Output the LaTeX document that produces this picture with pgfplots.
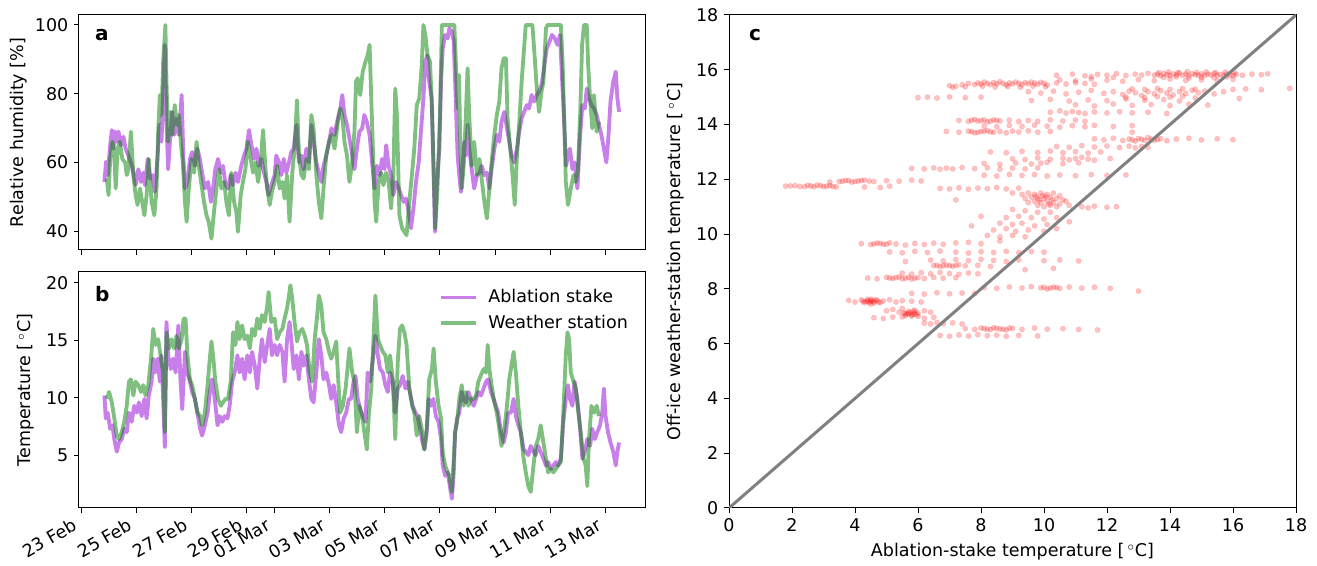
\documentclass[border=0pt]{standalone}
\usepackage{fontspec}
\setmainfont{DejaVu Sans}
\usepackage{pgfplots}
\pgfplotsset{compat=1.18}
\usepackage{pgfplotstable}

\definecolor{stakec}{RGB}{148,0,211}
\definecolor{stationc}{RGB}{0,128,0}

% relative humidity, ablation stake
\pgfplotstableread{
day rh
0.84 54.3
0.90 60.2
0.96 56.3
1.05 65.0
1.11 69.4
1.17 64.0
1.23 69.0
1.29 66.0
1.35 69.0
1.44 65.0
1.53 67.5
1.61 64.0
1.71 62.0
1.80 60.0
1.89 57.0
1.97 53.4
2.07 58.0
2.17 54.3
2.25 57.0
2.31 53.4
2.41 61.0
2.49 55.3
2.58 56.3
2.67 51.4
2.77 62.0
2.83 70.9
2.91 66.0
2.97 80.6
3.03 94.2
3.08 73.8
3.15 58.0
3.24 68.9
3.30 74.7
3.37 68.0
3.45 72.8
3.54 68.0
3.64 79.6
3.70 62.0
3.76 52.4
3.85 54.3
3.94 61.0
4.02 63.0
4.12 59.0
4.21 64.0
4.30 61.0
4.38 57.0
4.48 52.4
4.60 54.3
4.70 48.5
4.78 52.4
4.86 58.0
4.96 61.0
5.06 57.0
5.14 59.0
5.23 53.4
5.32 52.4
5.42 56.3
5.50 53.4
5.59 57.0
5.68 54.3
5.80 59.0
5.90 62.0
5.99 64.0
6.08 69.4
6.17 65.0
6.26 61.0
6.35 64.0
6.43 59.0
6.53 61.0
6.62 57.0
6.71 54.3
6.79 50.5
6.89 53.4
7.01 56.3
7.07 62.0
7.17 60.0
7.25 56.3
7.34 61.0
7.43 57.0
7.53 60.0
7.61 63.0
7.70 64.0
7.80 70.9
7.89 60.0
7.98 62.0
8.06 58.0
8.16 64.0
8.25 60.0
8.34 70.9
8.42 66.0
8.52 60.0
8.61 57.0
8.70 54.3
8.78 59.0
8.88 62.0
8.98 66.0
9.07 69.9
9.18 68.0
9.30 72.8
9.39 75.7
9.46 79.6
9.54 73.8
9.63 70.9
9.72 67.0
9.82 62.0
9.90 58.0
9.99 64.0
10.08 68.9
10.18 69.9
10.26 73.8
10.35 71.8
10.45 68.0
10.54 60.0
10.63 52.4
10.71 59.0
10.81 56.3
10.90 61.0
10.99 58.0
11.05 65.0
11.14 59.0
11.23 56.3
11.31 50.5
11.41 54.3
11.51 52.4
11.59 50.5
11.68 48.5
11.77 49.5
11.87 45.6
11.95 40.8
12.04 46.6
12.13 54.3
12.23 60.0
12.31 68.9
12.40 78.6
12.47 89.3
12.54 91.2
12.61 83.5
12.70 78.6
12.76 60.0
12.82 39.8
12.89 54.3
12.98 64.0
13.04 83.5
13.10 93.2
13.19 97.1
13.28 96.1
13.34 99.0
13.43 98.0
13.50 95.1
13.55 83.5
13.59 73.8
13.64 62.0
13.70 56.3
13.76 51.4
13.82 58.0
13.88 66.0
13.94 62.0
14.00 70.9
14.06 64.0
14.15 58.0
14.24 52.4
14.34 56.3
14.43 57.0
14.51 59.0
14.61 56.3
14.70 57.0
14.79 52.4
14.87 58.0
14.97 64.0
15.06 68.0
15.15 66.0
15.23 71.8
15.33 74.7
15.43 69.9
15.51 66.0
15.59 62.0
15.69 60.0
15.79 64.0
15.87 68.9
15.96 72.8
16.05 74.7
16.15 76.7
16.23 75.7
16.32 79.6
16.41 77.7
16.51 79.6
16.59 80.6
16.68 82.5
16.77 87.4
16.87 93.2
16.97 95.1
17.06 97.1
17.16 96.1
17.26 94.2
17.35 97.1
17.43 83.5
17.50 71.8
17.57 59.0
17.64 62.0
17.71 64.0
17.80 58.0
17.88 60.0
17.98 52.4
18.08 68.0
18.16 76.7
18.25 75.7
18.32 81.5
18.40 78.6
18.49 76.7
18.58 75.7
18.68 73.8
18.76 70.9
18.85 68.0
18.94 64.0
19.03 60.0
19.10 67.0
19.18 77.7
19.28 83.5
19.37 86.4
19.43 78.6
19.49 74.7
}\rhstake

% relative humidity, weather station
\pgfplotstableread{
day rh
0.93 55.3
0.99 50.5
1.05 61.0
1.13 66.0
1.20 62.0
1.25 52.4
1.32 64.0
1.40 66.0
1.49 61.0
1.59 60.0
1.65 56.3
1.71 58.0
1.80 68.9
1.89 56.3
1.97 50.5
2.04 47.6
2.13 52.4
2.21 48.5
2.29 44.6
2.37 50.5
2.45 61.0
2.55 48.5
2.65 44.6
2.73 52.4
2.79 68.9
2.85 79.6
2.91 73.8
2.97 89.3
3.05 100
3.09 83.5
3.15 66.0
3.23 74.7
3.30 68.0
3.39 76.7
3.47 70.9
3.54 73.8
3.61 66.0
3.68 60.0
3.76 48.5
3.82 42.7
3.90 52.4
4.00 61.0
4.09 57.0
4.18 66.0
4.26 59.0
4.36 53.4
4.45 48.5
4.54 44.6
4.62 42.7
4.72 37.8
4.80 44.6
4.90 52.4
4.99 58.0
5.08 52.4
5.18 54.3
5.26 48.5
5.35 44.6
5.44 57.0
5.54 48.5
5.62 45.6
5.68 39.8
5.78 50.5
5.86 54.3
5.95 58.0
6.04 66.0
6.14 61.0
6.23 57.0
6.31 60.0
6.41 54.3
6.50 60.0
6.59 69.4
6.67 59.0
6.74 52.4
6.83 47.6
6.91 51.5
7.01 54.3
7.10 59.0
7.19 52.4
7.29 54.3
7.37 49.5
7.46 56.3
7.55 42.7
7.65 57.0
7.73 64.0
7.82 78.1
7.89 62.0
7.98 56.3
8.06 55.3
8.16 61.0
8.25 58.0
8.34 73.8
8.42 69.9
8.52 56.3
8.61 48.5
8.70 43.7
8.78 52.4
8.88 62.0
8.98 66.0
9.07 68.0
9.18 64.0
9.30 71.8
9.39 75.7
9.46 73.8
9.54 66.0
9.63 62.0
9.72 54.3
9.82 60.0
9.90 68.9
9.96 83.5
10.02 84.5
10.11 79.6
10.20 86.4
10.30 89.3
10.38 91.2
10.45 94.2
10.51 78.6
10.57 64.0
10.63 48.5
10.69 42.7
10.78 54.3
10.87 57.0
10.95 53.4
11.05 57.0
11.14 54.3
11.23 46.6
11.31 56.3
11.38 81.5
11.44 73.8
11.53 44.6
11.63 40.8
11.71 39.8
11.79 38.8
11.89 48.5
11.99 57.0
12.07 64.0
12.16 76.7
12.25 78.6
12.34 88.3
12.40 100
12.47 97.1
12.55 91.2
12.64 89.3
12.71 75.7
12.77 58.0
12.83 40.8
12.91 52.4
13.00 73.8
13.07 100
13.52 100
13.58 88.3
13.64 75.7
13.69 85.4
13.74 64.0
13.79 52.4
13.86 59.0
13.94 73.8
14.00 87.4
14.06 73.8
14.15 59.0
14.24 66.0
14.34 56.3
14.43 61.0
14.51 55.3
14.61 48.5
14.70 43.7
14.79 52.4
14.87 60.0
14.97 68.0
15.06 73.8
15.15 77.7
15.23 87.4
15.31 90.3
15.39 90.3
15.45 72.8
15.55 64.0
15.63 56.3
15.71 47.6
15.79 62.0
15.87 70.9
15.96 83.5
16.03 91.2
16.11 100
16.35 100
16.41 93.2
16.51 81.5
16.59 74.7
16.68 80.6
16.75 83.5
16.84 99.0
16.90 100
17.38 100
17.44 90.3
17.50 73.8
17.56 54.3
17.64 47.6
17.74 52.4
17.84 56.3
17.92 54.3
18.00 58.0
18.08 73.8
18.15 94.2
18.22 100
18.32 100
18.37 88.3
18.44 78.6
18.52 69.9
18.58 79.6
18.68 68.9
18.76 71.8
}\rhstation

% temperature, ablation stake
\pgfplotstableread{
day t
0.84 10.2
0.89 8.2
0.96 8.7
1.05 7.3
1.13 7.6
1.20 6.4
1.29 5.3
1.37 6.1
1.47 6.4
1.56 7.3
1.65 7.0
1.73 8.7
1.83 7.9
1.92 9.3
2.01 8.7
2.09 9.6
2.19 8.4
2.29 9.9
2.37 8.2
2.45 10.2
2.55 11.4
2.61 13.4
2.67 12.2
2.77 13.4
2.85 11.4
2.91 13.7
2.97 9.9
3.03 5.7
3.09 16.6
3.15 13.7
3.25 12.5
3.33 13.4
3.42 12.2
3.52 16.3
3.59 11.9
3.66 9.0
3.76 14.0
3.83 12.2
3.92 11.6
4.02 10.5
4.12 9.9
4.21 8.7
4.31 7.3
4.38 6.7
4.48 7.6
4.58 8.7
4.66 10.5
4.74 11.6
4.84 9.9
4.94 7.6
5.02 8.4
5.11 7.9
5.20 8.4
5.30 8.2
5.38 9.3
5.47 11.4
5.56 12.2
5.66 13.7
5.74 12.2
5.83 13.4
5.92 11.6
6.02 13.7
6.11 12.2
6.19 14.0
6.29 12.8
6.38 10.8
6.47 13.4
6.55 15.1
6.65 13.1
6.74 14.6
6.83 16.0
6.91 13.7
7.01 14.6
7.10 13.7
7.19 14.6
7.29 14.0
7.37 11.4
7.46 15.1
7.55 16.6
7.61 15.1
7.70 12.5
7.80 13.7
7.89 11.6
7.98 14.0
8.06 12.8
8.16 13.7
8.25 11.6
8.34 9.9
8.42 9.6
8.52 12.2
8.61 15.1
8.70 13.7
8.78 11.6
8.88 12.2
8.98 11.1
9.06 9.9
9.15 11.1
9.24 9.6
9.34 7.6
9.42 7.0
9.51 8.2
9.60 8.7
9.70 9.9
9.78 9.9
9.87 11.4
9.94 11.9
10.02 9.9
10.11 9.0
10.20 8.4
10.30 7.9
10.38 12.2
10.47 11.4
10.57 13.4
10.66 15.4
10.75 13.7
10.83 12.5
10.93 12.2
11.02 11.1
11.11 10.5
11.19 12.2
11.29 11.4
11.38 8.7
11.47 10.8
11.55 11.1
11.65 11.9
11.75 10.8
11.83 11.4
11.91 10.5
12.01 9.3
12.11 8.7
12.19 8.4
12.28 7.3
12.37 6.1
12.44 5.5
12.52 7.0
12.59 9.9
12.67 9.3
12.76 9.9
12.85 8.4
12.95 7.9
13.04 6.4
13.10 4.1
13.19 3.2
13.28 3.5
13.34 2.6
13.43 1.2
13.50 3.5
13.55 7.0
13.62 8.2
13.70 8.7
13.79 10.5
13.86 9.9
13.94 9.6
14.03 10.5
14.12 9.9
14.22 9.3
14.31 9.9
14.39 10.5
14.49 10.2
14.58 10.8
14.67 11.4
14.75 11.6
14.85 10.5
14.94 9.9
15.03 9.3
15.11 8.7
15.21 7.0
15.31 6.1
15.39 7.0
15.47 8.7
15.57 8.7
15.67 9.9
15.75 8.4
15.84 7.6
15.93 7.0
16.03 5.5
16.11 5.3
16.20 5.0
16.29 5.8
16.39 5.3
16.47 5.0
16.56 5.8
16.65 5.3
16.75 4.7
16.84 4.1
16.92 4.4
17.02 3.8
17.11 4.1
17.20 4.4
17.28 4.1
17.38 4.7
17.47 7.9
17.56 9.9
17.64 11.1
17.71 9.9
17.80 9.3
17.88 11.4
17.98 9.9
18.08 7.3
18.16 4.7
18.25 5.3
18.34 6.4
18.44 5.8
18.52 7.3
18.61 6.4
18.70 7.0
18.80 7.6
18.88 8.7
18.94 10.8
19.00 8.4
19.09 7.0
19.18 6.1
19.28 5.3
19.37 4.1
19.43 5.3
19.49 6.1
}\tstake

% temperature, weather station
\pgfplotstableread{
day t
0.93 9.9
1.01 10.5
1.11 9.6
1.20 8.2
1.29 6.7
1.37 6.4
1.47 7.0
1.56 7.9
1.65 9.3
1.73 11.4
1.80 11.6
1.89 10.2
1.97 11.4
2.07 11.1
2.17 10.5
2.25 11.1
2.33 10.2
2.43 11.1
2.53 13.4
2.61 16.0
2.70 14.6
2.79 15.1
2.89 13.4
2.97 12.2
3.03 7.0
3.09 15.7
3.18 14.3
3.27 15.1
3.37 14.3
3.45 15.4
3.54 14.3
3.64 15.1
3.71 16.9
3.78 16.9
3.85 13.7
3.94 11.6
4.02 11.1
4.12 9.9
4.21 8.7
4.31 8.4
4.38 7.6
4.48 8.7
4.58 11.1
4.66 13.4
4.72 14.9
4.79 13.4
4.86 11.4
4.96 9.9
5.06 9.3
5.14 9.6
5.23 9.9
5.32 9.9
5.42 11.4
5.50 15.7
5.59 14.6
5.66 16.6
5.74 15.1
5.83 16.3
5.92 15.1
6.02 15.4
6.11 14.3
6.19 16.0
6.29 15.4
6.38 16.9
6.47 16.0
6.55 17.2
6.65 16.6
6.74 18.0
6.79 19.2
6.89 16.6
7.01 16.9
7.10 15.1
7.19 15.7
7.29 16.0
7.37 16.9
7.46 17.8
7.53 18.9
7.58 19.8
7.65 18.6
7.73 16.6
7.82 14.9
7.91 15.7
8.01 16.0
8.10 15.4
8.18 14.6
8.28 12.2
8.37 11.4
8.46 15.1
8.54 16.9
8.61 18.9
8.70 18.0
8.78 15.7
8.88 15.1
8.98 14.0
9.06 13.4
9.15 14.0
9.24 14.9
9.30 12.2
9.38 8.7
9.48 9.3
9.58 10.8
9.66 12.8
9.72 14.3
9.82 12.2
9.90 11.4
9.99 7.0
10.08 9.3
10.18 8.4
10.26 7.0
10.35 5.5
10.42 8.4
10.51 10.8
10.59 15.1
10.66 18.9
10.75 15.1
10.83 14.6
10.93 14.0
11.02 13.7
11.11 12.2
11.19 13.7
11.29 11.6
11.38 6.4
11.47 13.1
11.55 16.0
11.63 16.3
11.71 15.7
11.79 14.6
11.89 10.8
11.99 9.3
12.07 8.7
12.16 6.7
12.25 8.4
12.34 7.3
12.43 5.5
12.52 7.3
12.61 11.6
12.71 12.5
12.77 14.3
12.85 11.4
12.95 9.3
13.04 8.2
13.10 5.2
13.19 4.1
13.28 3.5
13.34 3.2
13.43 1.8
13.50 4.7
13.55 7.0
13.62 7.9
13.70 9.9
13.79 11.1
13.86 9.3
13.94 10.5
14.03 9.3
14.12 9.9
14.22 9.9
14.31 10.2
14.39 11.4
14.49 12.0
14.58 12.5
14.67 12.2
14.73 14.6
14.79 12.5
14.87 11.1
14.97 9.6
15.06 8.7
15.15 7.3
15.23 5.8
15.33 7.3
15.43 9.3
15.51 11.6
15.59 12.8
15.67 14.0
15.75 12.2
15.84 9.3
15.93 7.0
16.03 4.7
16.11 3.5
16.20 2.3
16.29 1.8
16.39 4.1
16.47 5.8
16.56 6.4
16.65 7.6
16.75 6.1
16.84 4.7
16.92 3.5
17.02 3.8
17.11 3.5
17.20 3.8
17.28 4.1
17.38 4.4
17.47 8.7
17.56 13.7
17.62 15.7
17.68 15.1
17.74 12.2
17.84 11.4
17.92 10.8
18.00 9.0
18.10 7.0
18.20 4.7
18.28 4.1
18.34 2.3
18.40 6.4
18.49 9.3
18.58 8.7
18.68 9.3
18.76 8.4
}\tstation

% stake temperature vs off-ice station temperature
\pgfplotstableread{
x y
10.4 15.80
10.9 15.84
11.3 15.78
11.7 15.83
12.0 15.80
12.3 15.86
12.6 15.79
12.9 15.84
13.1 15.81
13.3 15.87
13.5 15.80
13.6 15.84
13.7 15.78
13.8 15.86
13.9 15.82
14.0 15.79
14.1 15.85
14.2 15.81
14.3 15.88
14.4 15.80
14.5 15.84
14.6 15.78
14.7 15.86
14.8 15.82
14.9 15.80
15.0 15.85
15.1 15.79
15.2 15.84
15.3 15.81
15.4 15.86
15.5 15.80
15.6 15.83
15.7 15.78
15.8 15.84
15.9 15.81
16.0 15.79
16.1 15.83
16.3 15.80
16.6 15.84
16.9 15.82
17.1 15.85
13.65 15.90
13.95 15.92
14.25 15.90
14.55 15.93
14.85 15.90
15.15 15.92
15.45 15.90
15.75 15.91
16.05 15.89
13.8 15.72
14.2 15.74
14.6 15.70
15.0 15.73
15.4 15.71
15.8 15.74
12.2 15.72
11.5 15.75
7.0 15.42
7.2 15.40
7.4 15.45
7.6 15.50
7.8 15.46
7.9 15.52
8.0 15.48
8.1 15.55
8.2 15.50
8.3 15.46
8.4 15.53
8.5 15.49
8.6 15.56
8.7 15.50
8.8 15.45
8.9 15.52
9.0 15.48
9.1 15.55
9.2 15.50
9.3 15.46
9.4 15.53
9.5 15.49
9.6 15.55
9.7 15.51
9.8 15.47
9.9 15.54
10.0 15.50
10.1 15.45
10.4 15.52
10.7 15.48
11.0 15.53
11.3 15.50
11.6 15.47
7.1 15.36
7.5 15.38
8.05 15.40
8.45 15.37
8.85 15.39
9.25 15.36
9.65 15.40
10.05 15.38
10.5 15.63
11.0 15.60
11.5 15.66
12.0 15.62
12.5 15.58
13.0 15.64
13.5 15.60
14.0 15.66
14.5 15.61
15.0 15.63
15.5 15.59
16.0 15.65
9.5 15.20
9.9 15.15
10.3 15.22
10.7 15.12
11.1 15.18
11.5 15.25
11.9 15.14
12.2 15.20
12.5 15.10
12.7 15.22
12.9 15.16
13.1 15.06
13.3 15.20
13.5 15.12
13.7 15.24
13.9 15.15
14.1 15.08
14.3 15.20
14.5 15.13
14.7 15.25
14.9 15.16
15.1 15.22
15.4 15.12
15.7 15.20
16.0 15.28
16.4 15.30
16.9 15.27
17.8 15.32
12.8 15.30
13.2 15.28
13.6 15.32
14.0 15.28
14.4 15.31
14.8 15.29
13.2 14.98
14.0 15.00
14.8 14.97
12.6 15.00
13.6 15.02
14.4 15.03
6.0 14.98
6.3 15.00
6.6 14.97
7.0 15.01
7.5 14.98
8.0 15.00
9.6 14.88
10.2 14.92
10.8 14.86
11.4 14.90
12.0 14.87
12.6 14.93
13.2 14.88
13.8 14.91
14.3 14.86
11.0 14.72
11.6 14.68
12.2 14.75
12.8 14.70
13.4 14.73
14.0 14.69
14.6 14.74
15.2 14.71
10.2 14.45
10.5 14.50
10.7 14.42
10.9 14.48
11.1 14.44
11.3 14.40
11.6 14.46
12.0 14.42
12.4 14.47
12.8 14.43
13.3 14.45
13.9 14.40
7.3 14.15
7.6 14.12
7.8 14.18
8.0 14.14
8.2 14.10
8.4 14.17
8.6 14.13
8.9 14.16
9.2 14.11
9.5 14.15
9.8 14.12
10.2 14.17
10.6 14.13
11.0 14.16
11.3 14.12
7.7 14.16
7.9 14.13
8.1 14.17
8.3 14.12
8.5 14.15
8.1 13.95
8.5 13.92
8.9 13.97
9.3 13.93
9.7 13.98
10.1 13.94
10.5 13.90
10.9 13.96
11.3 13.92
11.6 13.97
12.2 13.93
12.8 13.96
6.9 13.75
7.3 13.72
7.6 13.76
7.8 13.70
8.0 13.74
8.2 13.78
8.4 13.72
8.6 13.75
8.8 13.70
9.0 13.76
9.2 13.73
9.5 13.77
9.8 13.72
10.2 13.75
7.7 13.74
7.9 13.72
8.1 13.76
8.3 13.73
11.6 13.48
11.9 13.44
12.2 13.50
12.5 13.42
12.7 13.47
12.9 13.40
13.1 13.46
13.3 13.52
13.5 13.43
13.7 13.48
13.9 13.41
14.2 13.47
14.6 13.50
15.0 13.44
15.5 13.48
16.0 13.45
12.8 13.44
13.0 13.49
13.2 13.42
13.4 13.47
13.6 13.45
10.4 13.20
10.8 13.17
11.2 13.23
11.6 13.18
12.0 13.22
12.4 13.16
12.7 13.21
12.9 13.15
13.1 13.20
13.3 13.17
8.3 13.00
8.8 12.97
9.3 13.02
9.8 12.98
10.2 13.03
10.6 12.97
11.0 13.01
11.4 12.96
11.8 13.00
9.0 12.75
9.4 12.72
9.8 12.78
10.2 12.73
10.6 12.77
10.8 12.71
11.0 12.76
11.2 12.80
11.4 12.74
11.6 12.70
12.1 12.76
8.1 12.58
8.6 12.55
9.1 12.60
9.6 12.56
9.9 12.59
10.1 12.62
10.6 12.57
11.1 12.60
5.8 12.40
6.2 12.38
6.5 12.42
6.7 12.37
6.9 12.41
7.1 12.38
7.4 12.43
7.8 12.39
8.2 12.42
8.6 12.37
9.0 12.41
9.4 12.38
9.8 12.42
8.1 12.15
8.5 12.12
8.9 12.18
9.3 12.14
9.7 12.17
10.1 12.12
10.5 12.16
11.0 12.13
11.5 12.17
12.0 12.14
12.6 12.16
3.5 11.92
3.7 11.96
3.9 11.90
4.1 11.94
4.3 11.97
4.6 11.92
5.0 11.95
5.4 11.93
5.8 11.97
6.1 11.94
3.6 11.93
3.8 11.95
4.0 11.92
4.2 11.96
4.45 11.94
1.8 11.75
2.1 11.77
2.4 11.73
2.6 11.76
2.8 11.79
3.0 11.74
3.2 11.77
3.4 11.72
1.95 11.76
2.25 11.74
2.5 11.78
2.7 11.73
2.9 11.77
3.1 11.75
3.3 11.74
4.3 11.72
4.8 11.70
5.1 11.75
3.2 11.90
6.7 11.67
7.0 11.65
7.3 11.69
7.6 11.64
7.9 11.68
8.2 11.66
8.5 11.70
8.8 11.65
9.2 11.68
9.0 11.50
9.3 11.45
9.5 11.50
9.7 11.45
9.9 11.50
10.1 11.45
10.3 11.50
10.5 11.40
9.4 11.30
9.6 11.35
9.8 11.30
10.0 11.30
10.2 11.35
10.4 11.30
10.6 11.25
9.5 11.15
9.7 11.20
9.9 11.15
10.1 11.20
10.3 11.15
10.5 11.10
10.7 11.20
9.8 11.05
10.0 11.00
10.2 11.05
10.4 11.00
10.8 11.05
9.85 11.25
10.05 11.38
10.25 11.25
9.95 11.40
10.15 11.10
9.75 11.38
11.2 11.00
11.4 10.96
11.6 11.02
12.0 10.98
12.3 11.00
7.2 11.25
9.0 10.90
9.4 10.85
9.8 10.80
10.2 10.80
8.8 10.60
9.2 10.65
9.6 10.60
10.0 10.55
10.4 10.60
8.6 10.40
9.0 10.35
9.3 10.40
9.7 10.30
10.1 10.35
8.4 10.15
8.8 10.20
9.1 10.10
9.5 10.15
10.0 10.10
8.2 9.95
8.6 9.90
9.0 9.95
9.4 9.90
10.4 10.20
10.8 10.45
8.0 10.65
7.7 10.30
8.6 9.75
4.2 9.65
4.5 9.62
4.7 9.67
4.9 9.63
5.1 9.68
5.3 9.64
5.6 9.60
5.9 9.66
6.2 9.62
6.5 9.67
6.8 9.63
7.2 9.68
7.6 9.70
8.0 9.65
4.6 9.64
4.8 9.66
5.0 9.63
5.1 9.35
5.5 9.32
5.9 9.37
6.3 9.33
6.7 9.38
7.2 9.34
7.6 9.31
8.0 9.36
8.4 9.33
8.8 9.37
9.2 9.32
9.6 9.36
10.0 9.34
6.4 9.05
6.8 9.02
7.2 9.07
7.6 9.03
8.0 9.08
8.4 9.04
8.8 9.00
9.2 9.06
10.0 9.03
10.5 9.06
11.1 9.02
5.6 9.00
6.5 8.85
6.7 8.82
6.9 8.87
7.1 8.83
7.3 8.88
7.5 8.84
7.9 8.86
8.3 8.82
6.6 8.86
6.8 8.84
7.0 8.85
7.2 8.86
9.4 8.70
10.3 8.75
5.5 8.57
5.8 8.54
6.1 8.59
6.4 8.55
6.7 8.60
7.0 8.56
7.3 8.53
7.6 8.58
7.9 8.55
4.4 8.40
4.7 8.37
5.0 8.42
5.2 8.38
5.4 8.43
5.6 8.39
5.8 8.36
6.0 8.41
6.2 8.38
6.5 8.42
6.8 8.39
7.2 8.41
5.1 8.40
5.3 8.41
5.5 8.37
5.7 8.42
5.9 8.39
8.1 8.05
8.5 8.02
8.9 8.07
9.3 8.03
9.6 8.08
9.9 8.04
10.1 8.00
10.3 8.06
10.5 8.02
10.8 8.07
11.2 8.03
11.6 8.06
12.1 8.02
10.0 8.06
10.2 8.03
10.4 8.05
13.0 7.92
5.8 7.84
6.2 7.81
6.6 7.86
7.0 7.82
7.4 7.85
7.8 7.83
3.8 7.58
4.0 7.52
4.2 7.60
4.3 7.50
4.4 7.56
4.5 7.62
4.6 7.53
4.7 7.58
4.8 7.50
4.9 7.56
5.1 7.60
5.3 7.52
5.5 7.57
5.8 7.55
6.1 7.52
4.5 7.55
4.6 7.49
4.4 7.62
4.5 7.45
4.35 7.54
4.55 7.58
4.65 7.60
4.75 7.52
4.25 7.55
4.45 7.50
5.0 7.20
5.2 7.25
5.4 7.15
5.5 7.28
5.6 7.10
5.7 7.18
5.8 7.05
5.9 7.22
6.0 7.12
6.2 7.20
6.4 7.15
5.7 7.10
5.8 7.00
5.9 7.12
5.6 7.02
5.5 6.98
6.0 7.00
5.65 7.08
5.75 7.14
5.85 7.08
5.95 7.06
5.55 7.12
5.85 7.20
4.6 6.95
4.9 6.92
5.2 6.97
6.2 6.93
6.5 6.96
6.2 6.75
6.4 6.72
6.6 6.77
6.8 6.73
7.1 6.76
7.4 6.72
7.5 6.55
7.8 6.52
8.0 6.57
8.2 6.53
8.4 6.58
8.6 6.54
8.8 6.50
9.0 6.56
9.3 6.52
9.7 6.57
10.1 6.53
10.6 6.55
11.1 6.52
11.7 6.50
8.1 6.55
8.3 6.52
8.5 6.56
8.7 6.53
8.9 6.57
6.7 6.30
7.0 6.27
7.3 6.32
7.6 6.28
7.9 6.33
8.2 6.29
8.5 6.31
8.8 6.27
9.2 6.30
9.8 6.28
12.8 13.72
16.2 14.95
}\scatterdata

\pgfplotsset{
  panel/.style={
    scale only axis,
    clip mode=individual,
    axis line style={line width=0.6pt},
    tick align=outside,
    tick pos=left,
    major tick length=2.9pt,
    tick style={line width=0.6pt, black},
    tick label style={font=\fontsize{10.5}{12.5}\selectfont},
    label style={font=\fontsize{10.5}{12.5}\selectfont},
    /pgf/number format/assume math mode=true,
  },
  stake/.style={color=stakec, opacity=0.5, line width=2.3pt, line join=round},
  station/.style={color=stationc, opacity=0.5, line width=2.3pt, line join=round},
}
\tikzset{
  datelabel/.style={xshift=-5.5pt, yshift=-5.8pt, rotate=30, anchor=north east,
    inner sep=0pt, text height=0.76em, text depth=0.24em,
    font=\fontsize{10.5}{12.5}\selectfont},
  panelletter/.style={anchor=north west, font=\bfseries\fontsize{12}{14}\selectfont},
}

\begin{document}
\begin{tikzpicture}
\path[use as bounding box] (0,0) rectangle (790.2pt,339.6pt);

% a: relative humidity
\begin{axis}[panel,
  at={(47.4pt,189.6pt)}, anchor=south west,
  width=339.6pt, height=141pt,
  xmin=-0.08, xmax=20.43, ymin=34.5, ymax=102.9,
  xtick={0,2,4,6,7,9,11,13,15,17,19}, xticklabels={},
  ytick={40,60,80,100},
  ylabel={Relative humidity [\%]},
  ylabel style={yshift=-2pt},
]
\addplot[stake] table[x=day, y=rh] {\rhstake};
\addplot[station] table[x=day, y=rh] {\rhstation};
\node[panelletter] at (rel axis cs:0.018,0.965) {a};
\end{axis}

% b: temperature
\begin{axis}[panel,
  at={(47.4pt,34.8pt)}, anchor=south west,
  width=339.6pt, height=141.6pt,
  xmin=-0.08, xmax=20.43, ymin=0.4, ymax=20.95,
  xtick={0,2,4,6,7,9,11,13,15,17,19}, xticklabels={},
  ytick={5,10,15,20},
  ylabel={Temperature [\,$^\circ$C]},
  legend style={draw=none, fill=none, at={(rel axis cs:0.985,0.955)}, anchor=north east,
    font=\fontsize{10.5}{12.5}\selectfont, row sep=2pt},
  legend cell align=left,
  legend image code/.code={\draw[#1] (0cm,0cm) -- (0.72cm,0cm); \path (0.88cm,0cm);},
]
\addplot[stake] table[x=day, y=t] {\tstake};
\addlegendentry{Ablation stake}
\addplot[station] table[x=day, y=t] {\tstation};
\addlegendentry{Weather station}
\node[panelletter] at (rel axis cs:0.018,0.965) {b};
\node[datelabel] at (axis cs:0,0.4) {23 Feb};
\node[datelabel] at (axis cs:2,0.4) {25 Feb};
\node[datelabel] at (axis cs:4,0.4) {27 Feb};
\node[datelabel] at (axis cs:6,0.4) {29 Feb};
\node[datelabel] at (axis cs:7,0.4) {01 Mar};
\node[datelabel] at (axis cs:9,0.4) {03 Mar};
\node[datelabel] at (axis cs:11,0.4) {05 Mar};
\node[datelabel] at (axis cs:13,0.4) {07 Mar};
\node[datelabel] at (axis cs:15,0.4) {09 Mar};
\node[datelabel] at (axis cs:17,0.4) {11 Mar};
\node[datelabel] at (axis cs:19,0.4) {13 Mar};
\end{axis}

% c: scatter
\begin{axis}[panel,
  at={(437.4pt,34.8pt)}, anchor=south west,
  width=340.2pt, height=295.8pt,
  xmin=0, xmax=18, ymin=0, ymax=18,
  xtick={0,2,...,18}, ytick={0,2,...,18},
  xlabel={Ablation-stake temperature [\,$^\circ$C]},
  ylabel={Off-ice weather-station temperature [\,$^\circ$C]},
]
\addplot[only marks, color=red, mark=*, mark size=1.6pt,
  mark options={draw=red, fill=red, draw opacity=0.12, fill opacity=0.24}] table[x=x, y=y] {\scatterdata};
\addplot[color=gray, line width=1.8pt] coordinates {(0,0) (18,18)};
\node[panelletter] at (rel axis cs:0.025,0.982) {c};
\end{axis}
\end{tikzpicture}
\end{document}
